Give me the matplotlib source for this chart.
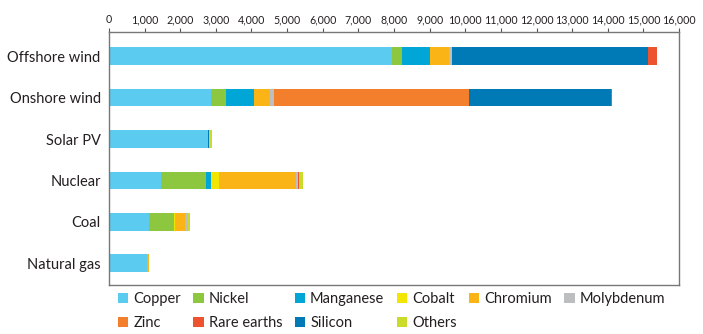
import matplotlib.pyplot as plt
from matplotlib.patches import Patch
from matplotlib.ticker import FuncFormatter

plt.rcParams['font.family'] = ['Lato', 'DejaVu Sans']

categories = ["Offshore wind", "Onshore wind", "Solar PV", "Nuclear", "Coal", "Natural gas"]

# kg per MW
copper = [7950, 2875, 2775, 1455, 1118, 1071]
nickel = [260, 400, 0, 1265, 702, 0]
manganese = [790, 790, 0, 140, 0, 0]
cobalt = [0, 0, 0, 225, 28, 0]
chromium = [550, 445, 0, 2160, 281, 66]
molybdenum = [75, 118, 0, 65, 75, 0]
zinc = [0, 5465, 0, 0, 0, 0]
rare_earths = [260, 14, 0, 28, 0, 0]
silicon = [5500, 3996, 45, 0, 0, 0]
others = [0, 0, 60, 113, 66, 0]

ticks = list(range(0, 16001, 1000))

# stacking order (silicon drawn before rare earths, as in the original)
series = [
    ("Copper", copper, "#5BCBEF"),
    ("Nickel", nickel, "#8DC63F"),
    ("Manganese", manganese, "#00A6D6"),
    ("Cobalt", cobalt, "#F2E500"),
    ("Chromium", chromium, "#FBB416"),
    ("Molybdenum", molybdenum, "#BCBEC0"),
    ("Zinc", zinc, "#F37F2C"),
    ("Silicon", silicon, "#007AB6"),
    ("Rare earths", rare_earths, "#EE5330"),
    ("Others", others, "#CBDB2A"),
]
legend_order = ["Copper", "Nickel", "Manganese", "Cobalt", "Chromium", "Molybdenum",
                "Zinc", "Rare earths", "Silicon", "Others"]

fig = plt.figure(figsize=(7.03, 3.34), dpi=100)
ax = fig.add_axes([0.155, 0.147, 0.811, 0.757])

ypos = list(range(len(categories)))
left = [0] * len(categories)
colors = {}
for name, vals, col in series:
    ax.barh(ypos, vals, left=left, height=0.43, color=col, linewidth=0)
    left = [a + b for a, b in zip(left, vals)]
    colors[name] = col

ax.set_yticks(ypos)
ax.set_yticklabels(categories, fontsize=10.5, color="#231F20")
ax.set_ylim(5.52, -0.58)
ax.set_xlim(0, 16000)
ax.set_xticks(ticks)
ax.xaxis.set_major_formatter(FuncFormatter(lambda v, p: f"{int(v):,}"))
ax.xaxis.tick_top()
ax.tick_params(axis='x', labelsize=7.7, length=3, width=0.8, pad=2,
               colors="#555555", labelcolor="#231F20")
ax.tick_params(axis='y', length=0, pad=6)
for s in ax.spines.values():
    s.set_color("#777777")
    s.set_linewidth(1.0)

# legend laid out row by row, 6 columns
order = [0, 6, 1, 7, 2, 8, 3, 9, 4, 5]
handles = [Patch(facecolor=colors[legend_order[i]], edgecolor='none') for i in order]
labels = [legend_order[i] for i in order]
fig.legend(handles, labels, ncol=6, loc='upper left', bbox_to_anchor=(0.168, 0.125),
           frameon=False, fontsize=10.5, handlelength=0.7, handleheight=0.7,
           handletextpad=0.35, columnspacing=0.85, labelspacing=0.7,
           borderaxespad=0, borderpad=0, labelcolor="#231F20")

fig.savefig("out.png", dpi=100)
